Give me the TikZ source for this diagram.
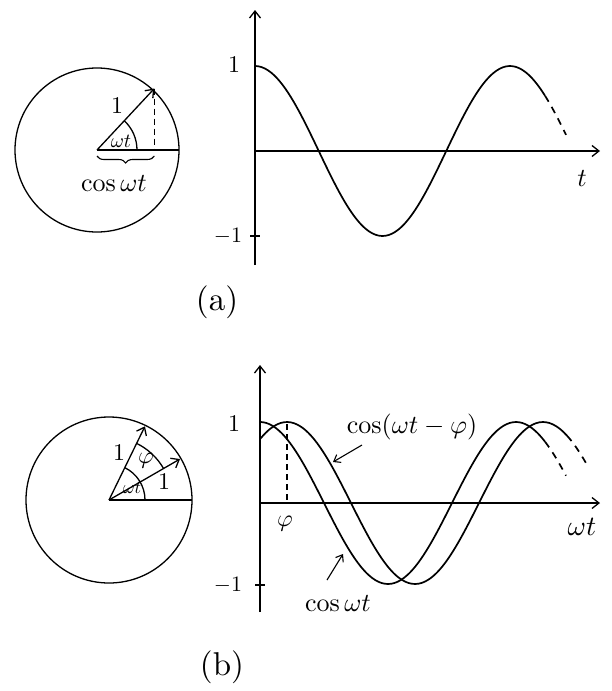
\documentclass[tikz,border=0pt]{standalone}
\usepackage{amsmath}
\usepackage{graphicx}
\usetikzlibrary{arrows.meta, decorations.pathreplacing, calc}

% hand-sized lettering
\newcommand{\hw}[2][2.3]{\scalebox{#1}{#2}}

\begin{document}
\begin{tikzpicture}[x=1pt, y=-1pt,
  line width=1.3pt,
  arrow/.style={-{Straight Barb[length=7pt,width=11pt]}},
  small_arrow/.style={-{Straight Barb[length=6pt,width=9pt]}, line width=1.1pt},
  curve/.style={line width=1.7pt},
  dash_curve/.style={line width=1.7pt, dash pattern=on 7pt off 6pt},
  lbl/.style={inner sep=1pt},
  small_lbl/.style={inner sep=0pt}
]
  \useasboundingbox (0,0) rectangle (612,691);

  % (a) unit circle with phasor at angle wt
  \coordinate (Oa) at (97,150);
  \draw (Oa) circle (82);
  \draw (Oa) -- ++(82,0) coordinate (Ra);
  \path (Oa) ++(-47:84) coordinate (Pa);
  \draw[arrow] (Oa) -- (Pa);
  \draw[dashed, dash pattern=on 6pt off 4pt] (Pa) -- (Pa |- Oa) coordinate (Fa);
  \draw (Oa) ++(40,0) arc (0:-47:40);
  \node (wta) [small_lbl] at (121,141) {\hw[2]{$\omega t$}};
  \node (onea) [lbl] at (117,106) {\hw[2.4]{$1$}};
  \draw[decorate, decoration={brace, mirror, amplitude=7pt}, line width=1.1pt]
    ($(Oa)+(0,6)$) -- ($(Fa)+(0,6)$);
  \node (cosa) [lbl] at (114,183) {\hw[2.6]{$\cos\omega t$}};

  % (a) graph of cos wt
  \coordinate (Ya0) at (255,265);
  \coordinate (Ya1) at (255,10);
  \coordinate (Xa0) at (255,151);
  \coordinate (Xa1) at (600,151);
  \draw[arrow] (Ya0) -- (Ya1);
  \draw[arrow] (Xa0) -- (Xa1);
  \draw (250,236) -- (260,236);
  \draw[curve] plot[domain=255:545, samples=90, smooth] (\x, {151 - 85*cos((\x-255)/255*360)});
  \draw[dash_curve] plot[domain=545:566, samples=10, smooth] (\x, {151 - 85*cos((\x-255)/255*360)});
  \node (ya_one) [lbl] at (234,65) {\hw[2.4]{$1$}};
  \node (ya_mone) [lbl] at (228,236) {\hw[2.2]{$-1$}};
  \node (ta) [lbl] at (582,178) {\hw[2.6]{$t$}};
  \node (capa) [lbl] at (217,302) {\hw[3.3]{(a)}};

  % (b) two phasors, wt and wt - phi
  \coordinate (Ob) at (109,500);
  \draw (Ob) circle (83);
  \draw (Ob) -- ++(83,0) coordinate (Rb);
  \path (Ob) ++(-64:82) coordinate (Pb);
  \path (Ob) ++(-30:82) coordinate (Qb);
  \draw[arrow] (Ob) -- (Pb);
  \draw[arrow] (Ob) -- (Qb);
  \draw (Ob) ++(36,0) arc (0:-64:36);
  \draw (Ob) ++(-30:63) arc (-30:-64:63);
  \node (wtb) [small_lbl] at (132,488) {\hw[1.8]{$\omega t$}};
  \node (phib) [lbl] at (146,461) {\hw[2.4]{$\varphi$}};
  \node (oneb1) [lbl] at (119,453) {\hw[2.4]{$1$}};
  \node (oneb2) [lbl] at (164,482) {\hw[2.4]{$1$}};

  % (b) graphs of cos wt and cos(wt - phi)
  \coordinate (Yb0) at (260,612);
  \coordinate (Yb1) at (260,365);
  \coordinate (Xb0) at (260,503);
  \coordinate (Xb1) at (600,503);
  \draw[arrow] (Yb0) -- (Yb1);
  \draw[arrow] (Xb0) -- (Xb1);
  \draw (255,585) -- (265,585);
  \draw[curve] plot[domain=260:545, samples=90, smooth] (\x, {503 - 81*cos((\x-260)/256*360)});
  \draw[dash_curve] plot[domain=545:566, samples=10, smooth] (\x, {503 - 81*cos((\x-260)/256*360)});
  \draw[curve] plot[domain=260:567, samples=90, smooth] (\x, {503 - 81*cos((\x-287)/256*360)});
  \draw[dash_curve] plot[domain=567:588, samples=10, smooth] (\x, {503 - 81*cos((\x-287)/256*360)});
  \draw[dashed, dash pattern=on 6pt off 4pt] (287,424) -- (287,503);
  \node (yb_one) [lbl] at (234,424) {\hw[2.4]{$1$}};
  \node (yb_mone) [lbl] at (228,585) {\hw[2.2]{$-1$}};
  \node (phi_x) [lbl] at (285,524) {\hw[2.4]{$\varphi$}};
  \node (wt_x) [lbl] at (582,527) {\hw[2.8]{$\omega t$}};

  \node (cos_shift) [lbl] at (412,427) {\hw[2.6]{$\cos(\omega t-\varphi)$}};
  \coordinate (shift_pt) at (333,462);
  \draw[small_arrow] (362,445) -- (shift_pt);
  \node (cos_plain) [lbl] at (338,603) {\hw[2.6]{$\cos\omega t$}};
  \coordinate (plain_pt) at (343,554);
  \draw[small_arrow] (327,580) -- (plain_pt);
  \node (capb) [lbl] at (222,667) {\hw[3.3]{(b)}};

\end{tikzpicture}
\end{document}
